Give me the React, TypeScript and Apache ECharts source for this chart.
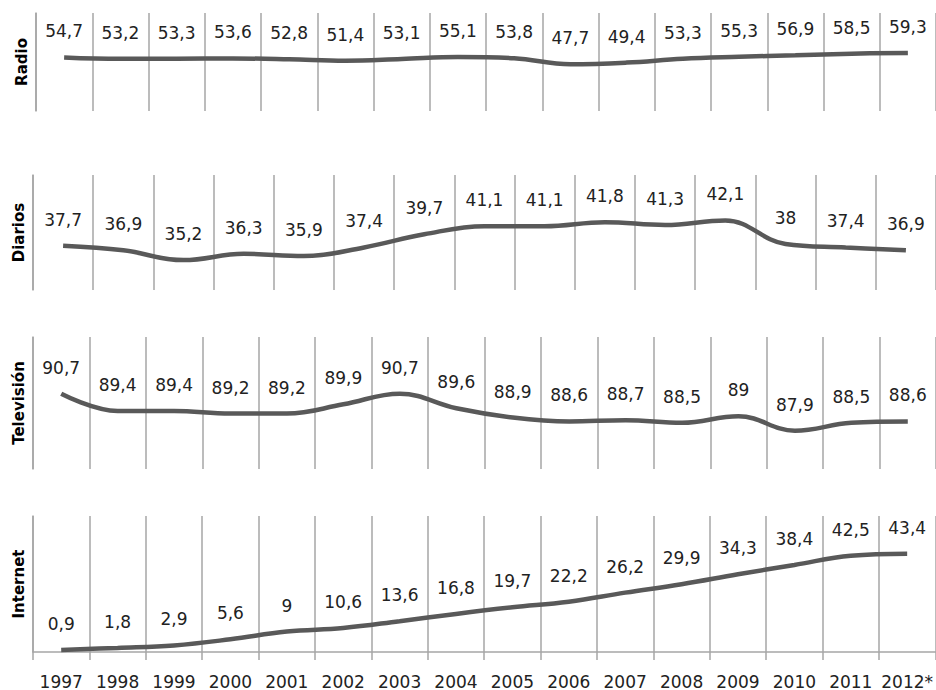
import React, { useEffect, useRef } from "react";
import * as echarts from "echarts";

const years = ["1997", "1998", "1999", "2000", "2001", "2002", "2003", "2004", "2005", "2006", "2007", "2008", "2009", "2010", "2011", "2012*"];
const diariosSlots = ["1997", "1998", "1999", "2000", "2001", "2002", "2003", "2004", "2005", "2006", "2007", "2008", "2009", "2010", "2011"];

const radio = [54.7, 53.2, 53.3, 53.6, 52.8, 51.4, 53.1, 55.1, 53.8, 47.7, 49.4, 53.3, 55.3, 56.9, 58.5, 59.3];
const diarios = [37.7, 36.9, 35.2, 36.3, 35.9, 37.4, 39.7, 41.1, 41.1, 41.8, 41.3, 42.1, 38, 37.4, 36.9];
const television = [90.7, 89.4, 89.4, 89.2, 89.2, 89.9, 90.7, 89.6, 88.9, 88.6, 88.7, 88.5, 89, 87.9, 88.5, 88.6];
const internet = [0.9, 1.8, 2.9, 5.6, 9, 10.6, 13.6, 16.8, 19.7, 22.2, 26.2, 29.9, 34.3, 38.4, 42.5, 43.4];

const names = ["Radio", "Diarios", "Televisión", "Internet"];
const ranges = [
  [0, 100],
  [30, 50],
  [85, 95],
  [0, 60],
];

const FONT = "DejaVu Sans";
const GRID_COLOR = "#a6a6a6";
const TEXT_COLOR = "#222222";

export default function App() {
  const ref = useRef<HTMLDivElement>(null);

  useEffect(() => {
    if (!ref.current) return;
    const chart = echarts.init(ref.current, null, { renderer: "svg" });

    const grids = [
      { left: 36, top: 13, width: 907, height: 98 },
      { left: 33, top: 175, width: 904, height: 115 },
      { left: 33, top: 337, width: 904, height: 132 },
      { left: 33, top: 516, width: 904, height: 137 },
    ];
    const cats = [years, diariosSlots, years, years];
    const datas = [radio, diarios, television, internet];

    const xAxis = cats.map((c, i) => {
      const last = i === 3;
      return {
        type: "category",
        gridIndex: i,
        data: c,
        boundaryGap: true,
        axisLine: { show: last, lineStyle: { color: GRID_COLOR, width: 1.5 } },
        axisTick: { show: last, length: 8, lineStyle: { color: GRID_COLOR, width: 1.5 } },
        axisLabel: {
          show: last,
          interval: 0,
          margin: 21,
          fontFamily: FONT,
          fontSize: 17,
          color: TEXT_COLOR,
        },
        splitLine: { show: true, interval: 0, lineStyle: { color: GRID_COLOR, width: 1.5 } },
      };
    });

    const yAxis = ranges.map((r, i) => ({
      type: "value",
      gridIndex: i,
      min: r[0],
      max: r[1],
      name: names[i],
      nameLocation: "middle",
      nameGap: 7,
      nameTextStyle: { fontFamily: FONT, fontSize: 15, fontWeight: "bold", color: "#000" },
      axisLine: { show: true, lineStyle: { color: GRID_COLOR, width: 1.5 } },
      axisTick: { show: false },
      axisLabel: { show: false },
      splitLine: { show: false },
    }));

    const series = datas.map((d, i) => ({
      type: "line",
      xAxisIndex: i,
      yAxisIndex: i,
      data: d,
      smooth: 0.4,
      symbol: "circle",
      symbolSize: 1,
      showSymbol: true,
      itemStyle: { color: "rgba(0,0,0,0)" },
      lineStyle: { color: "#595959", width: 4.5 },
      label: {
        show: true,
        position: "top",
        distance: 17,
        fontFamily: FONT,
        fontSize: 17,
        color: TEXT_COLOR,
        formatter: (p: any) => String(p.value).replace(".", ","),
      },
    }));

    chart.setOption({
      animation: false,
      backgroundColor: "#ffffff",
      grid: grids,
      xAxis,
      yAxis,
      series,
    });

    return () => chart.dispose();
  }, []);

  return (
    <div
      ref={ref}
      style={{ position: "fixed", left: 0, top: 0, width: 936, height: 690, background: "#fff" }}
    />
  );
}
